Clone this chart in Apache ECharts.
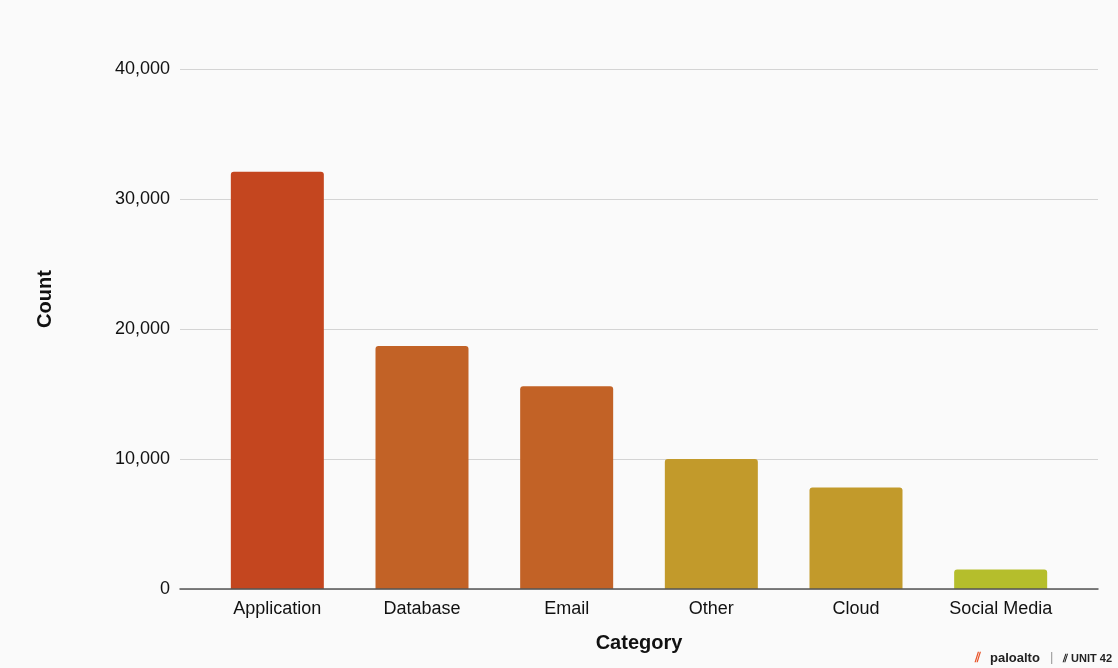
<!DOCTYPE html>
<html><head><meta charset="utf-8">
<script src="https://cdn.jsdelivr.net/npm/echarts@6/dist/echarts.min.js"></script>
<style>html,body{margin:0;padding:0;background:#fafafa}#c{width:1118px;height:668px}</style>
</head><body><div id="c"></div>
<script>
const categories = ['Application', 'Database', 'Email', 'Other', 'Cloud', 'Social Media'];
const counts = [32100, 18700, 15600, 10000, 7800, 1500];
const barColors = ['#C4461F', '#C26226', '#C26226', '#C29A2B', '#C29A2B', '#B5BE2C'];
const yTicks = [0, 10000, 20000, 30000, 40000];

const font = 'Liberation Sans, Arial, Helvetica, sans-serif';
const chart = echarts.init(document.getElementById('c'));
chart.setOption({
  backgroundColor: '#fafafa',
  animation: false,
  grid: [
    {left: 180, right: 20, top: 69, bottom: 79},
    {left: 205, right: 45, top: 69, bottom: 79}
  ],
  xAxis: [
    {gridIndex: 0, type: 'value', min: 0, max: 1, z: 10,
     axisLine: {show: true, lineStyle: {color: '#555', width: 1.5}},
     axisTick: {show: false}, axisLabel: {show: false}, splitLine: {show: false}},
    {gridIndex: 1, type: 'category', data: categories,
     axisLine: {show: false}, axisTick: {show: false},
     axisLabel: {color: '#111', fontSize: 18, fontFamily: font, margin: 11},
     name: 'Category', nameLocation: 'middle', nameGap: 44,
     nameTextStyle: {color: '#111', fontSize: 20, fontWeight: 'bold', fontFamily: font}}
  ],
  yAxis: [
    {gridIndex: 0, type: 'value', min: yTicks[0], max: yTicks[yTicks.length - 1], interval: 10000,
     axisLine: {show: false}, axisTick: {show: false},
     axisLabel: {color: '#111', fontSize: 18, fontFamily: font, margin: 10,
       formatter: v => v.toLocaleString('en-US')},
     splitLine: {lineStyle: {color: '#d4d4d4', width: 1}}},
    {gridIndex: 1, type: 'value', min: yTicks[0], max: yTicks[yTicks.length - 1], show: false,
     splitLine: {show: false}}
  ],
  series: [{
    type: 'bar', xAxisIndex: 1, yAxisIndex: 1,
    barWidth: 93,
    data: counts.map((v, i) => ({value: v, itemStyle: {color: barColors[i], borderRadius: [3, 3, 0, 0]}}))
  }],
  graphic: [
    {type: 'text', x: 45, y: 299, rotation: Math.PI / 2,
     style: {text: 'Count', fill: '#111', font: 'bold 20px ' + font, align: 'center', verticalAlign: 'middle'}},
    {type: 'text', left: 975, top: 652, style: {text: '⫽', fill: '#E8542A', font: 'bold 13px ' + font}},
    {type: 'text', left: 990, top: 652, style: {text: 'paloalto', fill: '#222', font: 'bold 13px ' + font}},
    {type: 'text', left: 1050, top: 651, style: {text: '|', fill: '#999', font: '13px ' + font}},
    {type: 'text', left: 1063, top: 653, style: {text: '⫽ UNIT 42', fill: '#222', font: 'bold 11px ' + font}}
  ]
});
</script></body></html>
